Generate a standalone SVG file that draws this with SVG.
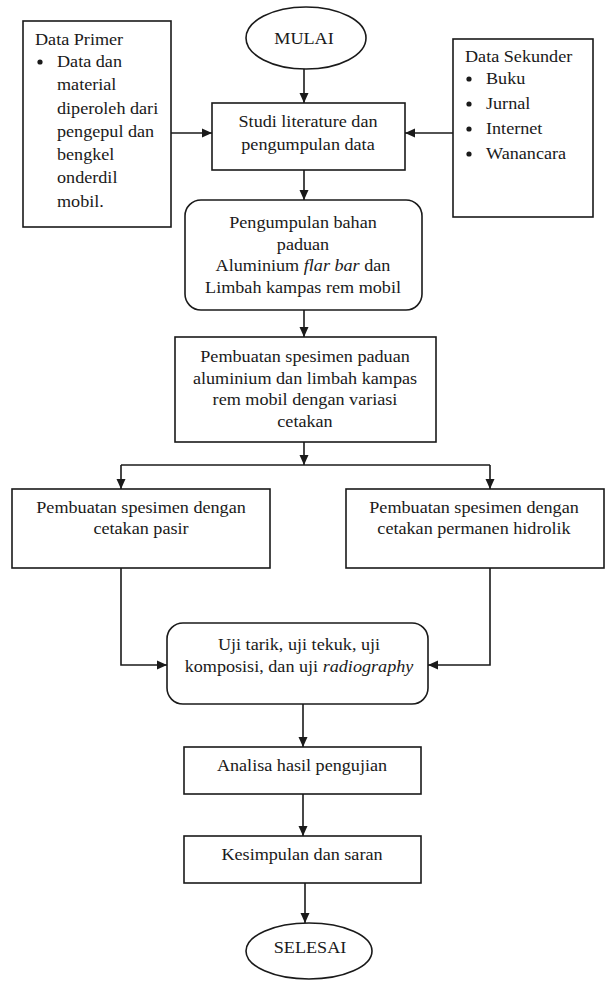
<svg xmlns="http://www.w3.org/2000/svg" width="606" height="981" viewBox="0 0 606 981">
<style>
.box{fill:#fff;stroke:#1a1a1a;stroke-width:1.6}
.t{font-family:"Liberation Serif","Times New Roman",serif;font-size:16.5px;fill:#1a1a1a}
.c{text-anchor:middle}
.i{font-style:italic}
.ln{fill:none;stroke:#1a1a1a;stroke-width:1.6}
.dot{fill:#1a1a1a}
</style>
<defs>
<marker id="ah" markerUnits="userSpaceOnUse" markerWidth="10" markerHeight="10" viewBox="0 0 10 10" refX="10" refY="5" orient="auto">
<path d="M0,0.5 L10,5 L0,9.5 z" fill="#1a1a1a"/>
</marker>
</defs>
<rect width="606" height="981" fill="#fff"/>

<g id="mulai">
<ellipse class="box" cx="306" cy="38" rx="60" ry="31"/>
<text class="t c" transform="translate(304,44) scale(1.1,1)">MULAI</text>
</g>

<g id="data-primer">
<rect class="box" x="23" y="21" width="148" height="206"/>
<text class="t" transform="translate(35,45) scale(1.1,1)">Data Primer</text>
<circle class="dot" cx="40" cy="62" r="2.6"/>
<text class="t" transform="translate(57,67) scale(1.1,1)"><tspan x="0" y="0">Data dan</tspan><tspan x="0" y="23.3">material</tspan><tspan x="0" y="46.6">diperoleh dari</tspan><tspan x="0" y="69.9">pengepul dan</tspan><tspan x="0" y="93.2">bengkel</tspan><tspan x="0" y="116.5">onderdil</tspan><tspan x="0" y="139.8">mobil.</tspan></text>
</g>

<g id="studi">
<rect class="box" x="212" y="103" width="193" height="67"/>
<text class="t c" transform="translate(308,127) scale(1.1,1)"><tspan x="0" y="0">Studi literature dan</tspan><tspan x="0" y="23">pengumpulan data</tspan></text>
</g>

<g id="data-sekunder">
<rect class="box" x="453" y="39" width="140" height="178"/>
<text class="t" transform="translate(465,62) scale(1.1,1)">Data Sekunder</text>
<circle class="dot" cx="469" cy="79" r="2.6"/>
<circle class="dot" cx="469" cy="104" r="2.6"/>
<circle class="dot" cx="469" cy="129" r="2.6"/>
<circle class="dot" cx="469" cy="154" r="2.6"/>
<text class="t" transform="translate(486,84) scale(1.1,1)"><tspan x="0" y="0">Buku</tspan><tspan x="0" y="25">Jurnal</tspan><tspan x="0" y="50">Internet</tspan><tspan x="0" y="75">Wanancara</tspan></text>
</g>

<g id="pengumpulan">
<rect class="box" x="185" y="200" width="237" height="110" rx="16" ry="16"/>
<text class="t c" transform="translate(303,228) scale(1.1,1)"><tspan x="0" y="0">Pengumpulan bahan</tspan><tspan x="0" y="21.7">paduan</tspan><tspan x="0" y="43.4">Aluminium <tspan class="i">flar bar</tspan> dan</tspan><tspan x="0" y="65.1">Limbah kampas rem mobil</tspan></text>
</g>

<g id="pembuatan">
<rect class="box" x="175" y="337" width="261" height="105"/>
<text class="t c" transform="translate(305,362) scale(1.1,1)"><tspan x="0" y="0">Pembuatan spesimen paduan</tspan><tspan x="0" y="21.6">aluminium dan limbah kampas</tspan><tspan x="0" y="43.2">rem mobil dengan variasi</tspan><tspan x="0" y="64.8">cetakan</tspan></text>
</g>

<g id="cetakan-pasir">
<rect class="box" x="12" y="489" width="258" height="79"/>
<text class="t c" transform="translate(141,513) scale(1.1,1)"><tspan x="0" y="0">Pembuatan spesimen dengan</tspan><tspan x="0" y="21">cetakan pasir</tspan></text>
</g>

<g id="cetakan-permanen">
<rect class="box" x="346" y="489" width="258" height="79"/>
<text class="t c" transform="translate(474,513) scale(1.1,1)"><tspan x="0" y="0">Pembuatan spesimen dengan</tspan><tspan x="0" y="21">cetakan permanen hidrolik</tspan></text>
</g>

<g id="uji">
<rect class="box" x="167" y="623" width="261" height="81" rx="16" ry="16"/>
<text class="t c" transform="translate(299,650) scale(1.1,1)"><tspan x="0" y="0">Uji tarik, uji tekuk, uji</tspan><tspan x="0" y="22.5">komposisi, dan uji <tspan class="i">radiography</tspan></tspan></text>
</g>

<g id="analisa">
<rect class="box" x="184" y="747" width="237" height="47"/>
<text class="t c" transform="translate(302,771) scale(1.1,1)">Analisa hasil pengujian</text>
</g>

<g id="kesimpulan">
<rect class="box" x="184" y="836" width="237" height="47"/>
<text class="t c" transform="translate(302,860) scale(1.1,1)">Kesimpulan dan saran</text>
</g>

<g id="selesai">
<ellipse class="box" cx="309" cy="951" rx="63" ry="28"/>
<text class="t c" transform="translate(310,953) scale(1.1,1)">SELESAI</text>
</g>

<g id="connectors">
<path class="ln" d="M304,69 V103" marker-end="url(#ah)"/>
<path class="ln" d="M171,133 H212" marker-end="url(#ah)"/>
<path class="ln" d="M453,133 H405" marker-end="url(#ah)"/>
<path class="ln" d="M304,170 V200" marker-end="url(#ah)"/>
<path class="ln" d="M304,310 V337" marker-end="url(#ah)"/>
<path class="ln" d="M304,442 V465" marker-end="url(#ah)"/>
<path class="ln" d="M121,465 H490"/>
<path class="ln" d="M121,465 V489" marker-end="url(#ah)"/>
<path class="ln" d="M490,465 V489" marker-end="url(#ah)"/>
<path class="ln" d="M121,568 V665 H167" marker-end="url(#ah)"/>
<path class="ln" d="M490,568 V665 H428" marker-end="url(#ah)"/>
<path class="ln" d="M303,704 V747" marker-end="url(#ah)"/>
<path class="ln" d="M303,794 V836" marker-end="url(#ah)"/>
<path class="ln" d="M305,883 V923" marker-end="url(#ah)"/>
</g>
</svg>
